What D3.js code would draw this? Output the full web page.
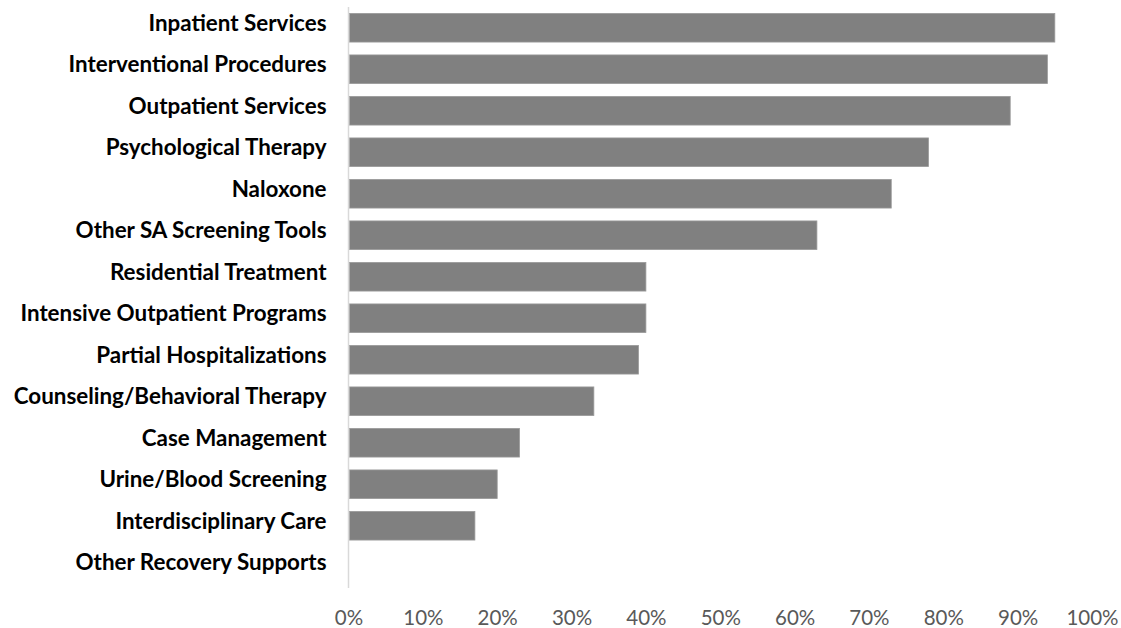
<!DOCTYPE html>
<html>
<head>
<meta charset="utf-8">
<script src="https://cdn.jsdelivr.net/npm/d3@7"></script>
<style>
  html, body { margin: 0; padding: 0; background: #fff; }
  svg { display: block; }
</style>
</head>
<body>
<svg id="chart" width="1121" height="628"></svg>
<script>
// Share of respondents offering each service (percent)
const categories = [
  "Inpatient Services",
  "Interventional Procedures",
  "Outpatient Services",
  "Psychological Therapy",
  "Naloxone",
  "Other SA Screening Tools",
  "Residential Treatment",
  "Intensive Outpatient Programs",
  "Partial Hospitalizations",
  "Counseling/Behavioral Therapy",
  "Case Management",
  "Urine/Blood Screening",
  "Interdisciplinary Care",
  "Other Recovery Supports"
];
const values = [95, 94, 89, 78, 73, 63, 40, 40, 39, 33, 23, 20, 17, 0];
const tickValues = [0, 10, 20, 30, 40, 50, 60, 70, 80, 90, 100];

const svg = d3.select("#chart");
const labelFont = "Lato, 'Open Sans', sans-serif";

const x = d3.scaleLinear().domain([0, 100]).range([348.5, 1092]);
const y = d3.scaleBand().domain(categories).range([7, 588]).paddingInner(0.31).paddingOuter(0.155);

// bars
svg.append("g")
  .selectAll("rect")
  .data(categories.map((c, i) => ({ c, v: values[i] })))
  .join("rect")
  .attr("x", x(0) + 1)
  .attr("y", d => y(d.c))
  .attr("width", d => Math.max(0, x(d.v) - x(0) - 1))
  .attr("height", y.bandwidth())
  .attr("fill", "#808080")
  .attr("stroke", d => d.v > 0 ? "#9a9a9a" : "none")
  .attr("stroke-width", 0.8);

// vertical category axis line
svg.append("line")
  .attr("x1", x(0)).attr("x2", x(0))
  .attr("y1", y.range()[0]).attr("y2", y.range()[1])
  .attr("stroke", "#d9d9d9")
  .attr("stroke-width", 1.5);

// category labels, sitting slightly above the bar centres
const yAxis = d3.axisLeft(y).tickSize(0).tickPadding(22);
const gy = svg.append("g").attr("transform", `translate(${x(0)},-4)`).call(yAxis);
gy.select(".domain").remove();
gy.selectAll("text")
  .attr("fill", "#000")
  .style("font-family", labelFont)
  .style("font-weight", "bold")
  .style("font-size", "22.4px");

// percentage tick labels
const xAxis = d3.axisBottom(x).tickValues(tickValues).tickSize(0).tickFormat(d => d + "%");
const gx = svg.append("g").attr("transform", "translate(0,607)").call(xAxis);
gx.select(".domain").remove();
gx.selectAll("text")
  .attr("fill", "#595959")
  .style("font-family", labelFont)
  .style("font-size", "20.5px");
</script>
</body>
</html>
